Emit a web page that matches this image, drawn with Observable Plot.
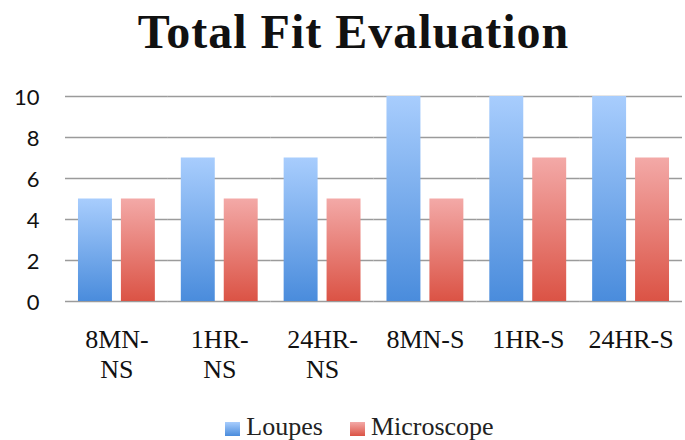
<!DOCTYPE html>
<html>
<head>
<meta charset="utf-8">
<script src="https://cdn.jsdelivr.net/npm/d3@7"></script>
<script src="https://cdn.jsdelivr.net/npm/@observablehq/plot@0.6"></script>
<style>
  html, body { margin: 0; padding: 0; background: #fff; }
  #wrap { width: 685px; height: 440px; position: relative; overflow: hidden; }
  #title { margin: 0; padding-top: 2px; padding-left: 22px; height: 60px; line-height: 60px; text-align: center;
           font-family: "Liberation Serif", serif; font-weight: bold; font-size: 48px; letter-spacing: 1px; color: #111; }
  #legend { display: flex; justify-content: center; align-items: center; padding-left: 34px;
            height: 38px; line-height: 38px; padding-top: 11px;
            font-family: "Liberation Serif", serif; font-size: 26px; color: #222; }
  .sw { display: inline-block; width: 15px; height: 14px; margin-right: 6px; position: relative; top: 2px; }
  .item { display: flex; align-items: center; }
  .item + .item { margin-left: 27px; }
</style>
</head>
<body>
<div id="wrap">
  <div id="title">Total Fit Evaluation</div>
  <div id="chart"></div>
  <div id="legend"></div>
</div>
<script>
const categories = ["8MN-NS", "1HR-NS", "24HR-NS", "8MN-S", "1HR-S", "24HR-S"];
const tickLabels = ["8MN-\nNS", "1HR-\nNS", "24HR-\nNS", "8MN-S", "1HR-S", "24HR-S"];
const series = ["Loupes", "Microscope"];
const loupes = [5, 7, 7, 10, 10, 10];
const microscope = [5, 5, 5, 5, 7, 7];
const yTicks = [0, 2, 4, 6, 8, 10];

const gradients = {
  Loupes: {id: "gL", top: "#a8cdfd", bottom: "#4a8cdc"},
  Microscope: {id: "gM", top: "#f3a9a7", bottom: "#db5345"}
};

const data = categories.flatMap((c, i) => [
  {cat: c, series: "Loupes", value: loupes[i]},
  {cat: c, series: "Microscope", value: microscope[i]}
]);

const chart = Plot.plot({
  width: 685,
  height: 335,
  marginLeft: 65,
  marginRight: 3,
  marginTop: 34,
  marginBottom: 96,
  style: {fontFamily: "Liberation Serif, serif", color: "#111", background: "#fff", overflow: "visible"},
  fx: {domain: categories, padding: 0, round: false, label: null, axis: null},
  x: {domain: series, paddingInner: 9 / 43, paddingOuter: 13 / 43, round: false, axis: null},
  y: {domain: [0, 10], label: null},
  color: {type: "ordinal", domain: series, range: series.map(s => `url(#${gradients[s].id})`)},
  marks: [
    Plot.gridY(yTicks, {stroke: "#9b9b9b", strokeOpacity: 1, strokeWidth: 1.6}),
    Plot.barY(data, {fx: "cat", x: "series", y: "value", fill: "series"}),
    Plot.axisY(yTicks, {tickSize: 0, tickPadding: 26, fontSize: 22, fontFamily: "Lato, sans-serif", dy: 1, label: null}),
    Plot.axisFx({anchor: "bottom", tickSize: 0, tickPadding: 25, fontSize: 26, fontFamily: "Liberation Serif, serif",
      lineHeight: 1.15, label: null, tickFormat: d => tickLabels[categories.indexOf(d)]})
  ]
});

// gradient definitions for the bar fills
const svg = d3.select(chart);
const defs = svg.insert("defs", ":first-child");
series.forEach(s => {
  const g = gradients[s];
  const lg = defs.append("linearGradient").attr("id", g.id).attr("x1", 0).attr("y1", 0).attr("x2", 0).attr("y2", 1);
  lg.append("stop").attr("offset", "0%").attr("stop-color", g.top);
  lg.append("stop").attr("offset", "100%").attr("stop-color", g.bottom);
});
document.getElementById("chart").appendChild(chart);

// legend
const legend = d3.select("#legend");
series.forEach(s => {
  const g = gradients[s];
  const item = legend.append("span").attr("class", "item");
  item.append("span").attr("class", "sw")
    .style("background", `linear-gradient(${g.top}, ${g.bottom})`);
  item.append("span").text(s);
});
</script>
</body>
</html>
